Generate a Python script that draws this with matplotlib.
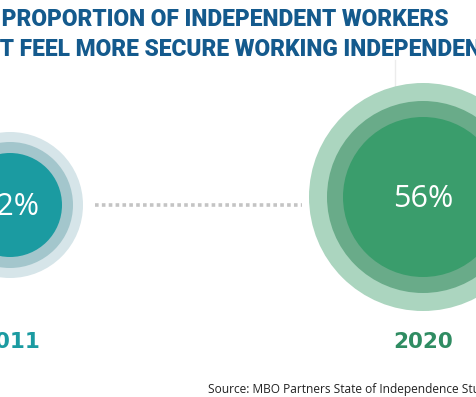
import matplotlib
matplotlib.use("Agg")
import matplotlib.pyplot as plt
from matplotlib.patches import Circle

# data
years = ["2011", "2020"]
values = [32, 56]
inner_cols = ["#1b9ba1", "#3a9d6c"]
mid_cols = ["#a3c6cc", "#69ab89"]
outer_cols = ["#d6e5e9", "#abd5bf"]
label_cols = ["#1b9ba1", "#2f8c62"]
title_pre = ["THE ", "THA"]
title_lines = ["PROPORTION OF INDEPENDENT WORKERS",
               "T FEEL MORE SECURE WORKING INDEPENDENTLY"]
source = "Source: MBO Partners State of Independence Study"

# layout (pixels)
centers = [(10, 205), (423, 197)]
radii = [(52, 63, 73), (80, 96, 114)]
TITLE_FONT = "Roboto"
TITLE_W = 900

fig = plt.figure(figsize=(4.76, 3.97), dpi=100)
ax = fig.add_axes([0, 0, 1, 1])
ax.set_xlim(0, 476)
ax.set_ylim(397, 0)
ax.set_aspect("equal")
ax.axis("off")
rend = fig.canvas.get_renderer()


def text_w(s, size):
    t = ax.text(0, 0, s, fontsize=size, fontweight=TITLE_W, family=TITLE_FONT)
    w = t.get_window_extent(rend).width
    t.remove()
    return w


# size the title so line one spans what the picture shows
size = 16.0
size = size * 450 / text_w(title_lines[0], size)

# faint divider
ax.plot([395, 395], [60, 86], color="#ececec", lw=1, zorder=0)

# dotted connector
ax.plot([95, 302], [205, 205], color="#c4c4c4", lw=2.6,
        linestyle=(0, (1, 0.9)), solid_capstyle="butt", zorder=1)

for i in range(len(years)):
    cx, cy = centers[i]
    r_in, r_mid, r_out = radii[i]
    ax.add_patch(Circle((cx, cy), r_out, color=outer_cols[i], lw=0, zorder=2))
    ax.add_patch(Circle((cx, cy), r_mid, color=mid_cols[i], lw=0, zorder=3))
    ax.add_patch(Circle((cx, cy), r_in, color=inner_cols[i], lw=0, zorder=4))
    ax.text(cx, cy + 2, "%d%%" % values[i], color="white", fontsize=22,
            family="Open Sans", ha="center", va="center", zorder=5)
    ax.text(cx, 342, years[i], color=label_cols[i], fontsize=15.5,
            fontweight="bold", family="DejaVu Sans", ha="center", va="center")

starts = [2, 0]
ys = [19, 50]
for i in range(2):
    x0 = starts[i] - text_w(title_pre[i], size)
    ax.text(x0, ys[i], title_pre[i] + title_lines[i], color="#145a8d",
            fontsize=size, fontweight=TITLE_W, family=TITLE_FONT,
            ha="left", va="center")

ax.text(208, 389, source, color="#222222", fontsize=8.6,
        family="Open Sans", ha="left", va="center")

fig.savefig("out.png", dpi=100)
